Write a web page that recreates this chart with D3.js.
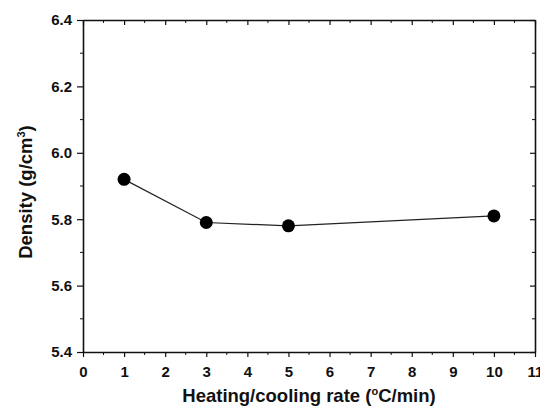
<!DOCTYPE html>
<html>
<head>
<meta charset="utf-8">
<script src="https://cdn.jsdelivr.net/npm/d3@7"></script>
<style>
  body { margin: 0; background: #fff; }
  svg text { font-family: "Liberation Sans", Arial, sans-serif; font-weight: bold; fill: #111; }
</style>
</head>
<body>
<div id="chart"></div>
<script>
// rate (°C/min) vs density (g/cm3)
const rates = [1, 3, 5, 10];
const density = [5.92, 5.79, 5.78, 5.81];
const densityErr = [0.005, 0.012, 0.006, 0.005];

const xTicks = [0, 1, 2, 3, 4, 5, 6, 7, 8, 9, 10, 11];
const yTicks = [5.4, 5.6, 5.8, 6.0, 6.2, 6.4];

const width = 540, height = 410;
const margin = { top: 20, right: 5, bottom: 58, left: 83 };

const svg = d3.select('#chart').append('svg')
    .attr('width', width)
    .attr('height', height);

const x = d3.scaleLinear().domain([0, 11]).range([margin.left, width - margin.right]);
const y = d3.scaleLinear().domain([5.4, 6.4]).range([height - margin.bottom, margin.top]);

const x0 = x.range()[0], x1 = x.range()[1];
const y0 = y.range()[0], y1 = y.range()[1];

// minor ticks every half step
const xMinor = d3.range(0.5, 11, 1);
const yMinor = d3.range(5.5, 6.4, 0.2);

// bottom axis: ticks outward
const bottomAxis = svg.append('g')
    .attr('transform', `translate(0,${y0})`)
    .call(d3.axisBottom(x).tickValues(xTicks).tickFormat(d3.format('d')).tickSize(5).tickSizeOuter(0));
bottomAxis.append('g').selectAll('line').data(xMinor).enter().append('line')
    .attr('x1', d => x(d)).attr('x2', d => x(d))
    .attr('y1', 0).attr('y2', 3)
    .attr('stroke', '#111');

// left axis: ticks outward
const leftAxis = svg.append('g')
    .attr('transform', `translate(${x0},0)`)
    .call(d3.axisLeft(y).tickValues(yTicks).tickFormat(d3.format('.1f')).tickSize(6).tickSizeOuter(0));
leftAxis.append('g').selectAll('line').data(yMinor).enter().append('line')
    .attr('y1', d => y(d)).attr('y2', d => y(d))
    .attr('x1', 0).attr('x2', -3)
    .attr('stroke', '#111');

// top axis: ticks inward, no labels
const topAxis = svg.append('g')
    .attr('transform', `translate(0,${y1})`)
    .call(d3.axisTop(x).tickValues(xTicks).tickFormat('').tickSize(-5).tickSizeOuter(0));
topAxis.append('g').selectAll('line').data(xMinor).enter().append('line')
    .attr('x1', d => x(d)).attr('x2', d => x(d))
    .attr('y1', 0).attr('y2', 3)
    .attr('stroke', '#111');

// right axis: ticks inward
const rightAxis = svg.append('g')
    .attr('transform', `translate(${x1},0)`)
    .call(d3.axisRight(y).tickValues(yTicks).tickFormat('').tickSize(-5).tickSizeOuter(0));
rightAxis.append('g').selectAll('line').data(yMinor).enter().append('line')
    .attr('y1', d => y(d)).attr('y2', d => y(d))
    .attr('x1', 0).attr('x2', -3)
    .attr('stroke', '#111');

svg.selectAll('.domain').attr('stroke', '#111').attr('stroke-width', 1.6);
svg.selectAll('.tick line').attr('stroke', '#111').attr('stroke-width', 1.2);
svg.selectAll('.tick text')
    .style('font-size', '15px')
    .style('font-family', '"Liberation Sans", Arial, sans-serif')
    .style('font-weight', 'bold')
    .attr('fill', '#222');
bottomAxis.selectAll('.tick text').attr('y', 14);
leftAxis.selectAll('.tick text').attr('x', -11);

// data
const pts = rates.map((r, i) => ({ x: r, y: density[i], e: densityErr[i] }));

svg.append('path')
    .datum(pts)
    .attr('fill', 'none')
    .attr('stroke', '#222')
    .attr('stroke-width', 1.2)
    .attr('d', d3.line().x(d => x(d.x)).y(d => y(d.y)));

svg.append('g').selectAll('line').data(pts).enter().append('line')
    .attr('x1', d => x(d.x)).attr('x2', d => x(d.x))
    .attr('y1', d => y(d.y - d.e)).attr('y2', d => y(d.y + d.e))
    .attr('stroke', '#111').attr('stroke-width', 1.2);

svg.append('g').selectAll('circle').data(pts).enter().append('circle')
    .attr('cx', d => x(d.x))
    .attr('cy', d => y(d.y))
    .attr('r', 6.5)
    .attr('fill', '#000');

// axis titles
const xl = svg.append('text')
    .attr('x', (x0 + x1) / 2)
    .attr('y', 402)
    .attr('text-anchor', 'middle')
    .style('font-size', '18.5px');
xl.append('tspan').text('Heating/cooling rate (');
xl.append('tspan').attr('dy', -7).style('font-size', '11px').text('o');
xl.append('tspan').attr('dy', 7).text('C/min)');

const yl = svg.append('text')
    .attr('transform', `translate(32,192) rotate(-90)`)
    .attr('text-anchor', 'middle')
    .style('font-size', '18.5px');
yl.append('tspan').text('Density (g/cm');
yl.append('tspan').attr('dy', -7).style('font-size', '11px').text('3');
yl.append('tspan').attr('dy', 7).text(')');
</script>
</body>
</html>
